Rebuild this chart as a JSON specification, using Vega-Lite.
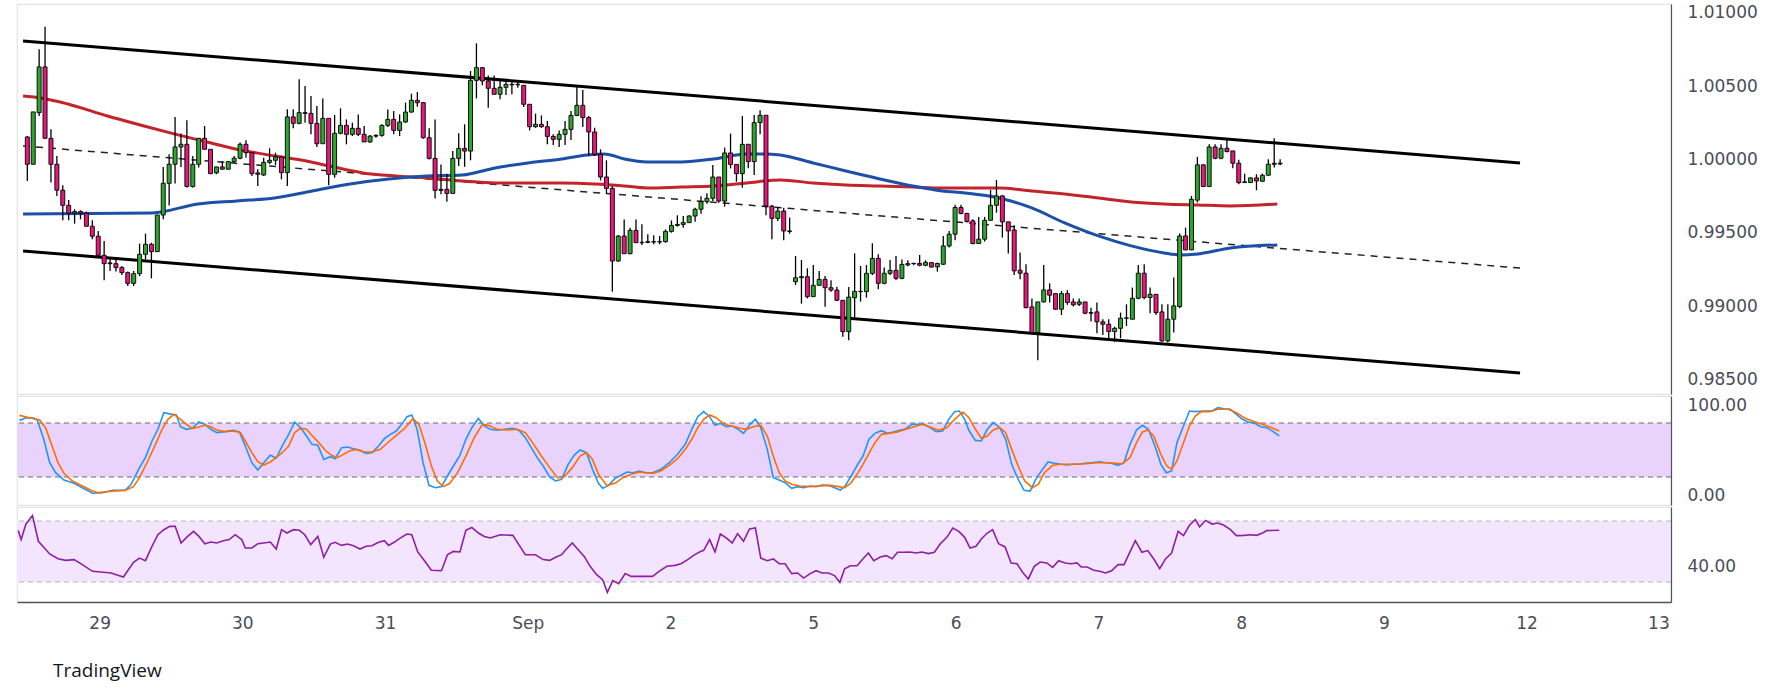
{
  "$schema": "https://vega.github.io/schema/vega-lite/v6.json",
  "background": "#ffffff",
  "padding": {"left": 14, "top": 3, "right": 5, "bottom": 5},
  "spacing": 0,
  "title": {"text": "TradingView", "orient": "bottom", "anchor": "start", "frame": "group", "offset": 30, "dx": 36, "font": "Open Sans", "fontSize": 19, "fontWeight": "normal", "color": "#131722"},
  "datasets": {
    "candles": [
      {"i":0,"o":1.00154,"h":1.00161,"l":0.99854,"c":0.99968},
      {"i":1,"o":0.99968,"h":1.00325,"l":0.99968,"c":1.00325},
      {"i":2,"o":1.0032,"h":1.00752,"l":1.00297,"c":1.00632},
      {"i":3,"o":1.00632,"h":1.00905,"l":1.00145,"c":1.00145},
      {"i":4,"o":1.00145,"h":1.00207,"l":0.99843,"c":0.99968},
      {"i":5,"o":0.99968,"h":1.00025,"l":0.99752,"c":0.99791},
      {"i":6,"o":0.99791,"h":0.99825,"l":0.99586,"c":0.99688},
      {"i":7,"o":0.99688,"h":0.99725,"l":0.99586,"c":0.99634},
      {"i":8,"o":0.99634,"h":0.99661,"l":0.99563,"c":0.99645},
      {"i":9,"o":0.99645,"h":0.99654,"l":0.99593,"c":0.99634},
      {"i":10,"o":0.99634,"h":0.99645,"l":0.99545,"c":0.99545},
      {"i":11,"o":0.99545,"h":0.99586,"l":0.99456,"c":0.99477},
      {"i":12,"o":0.99477,"h":0.99513,"l":0.99331,"c":0.99347},
      {"i":13,"o":0.99347,"h":0.99445,"l":0.99176,"c":0.9929},
      {"i":14,"o":0.99295,"h":0.99336,"l":0.9924,"c":0.9929},
      {"i":15,"o":0.9929,"h":0.9932,"l":0.99236,"c":0.99263},
      {"i":16,"o":0.99263,"h":0.99274,"l":0.99213,"c":0.99229},
      {"i":17,"o":0.99229,"h":0.99236,"l":0.99138,"c":0.99156},
      {"i":18,"o":0.99156,"h":0.9924,"l":0.99138,"c":0.99222},
      {"i":19,"o":0.99222,"h":0.99427,"l":0.99206,"c":0.99354},
      {"i":20,"o":0.99354,"h":0.99495,"l":0.9932,"c":0.99422},
      {"i":21,"o":0.99422,"h":0.99433,"l":0.9919,"c":0.99372},
      {"i":22,"o":0.99372,"h":0.99622,"l":0.99372,"c":0.99622},
      {"i":23,"o":0.99622,"h":0.9995,"l":0.99593,"c":0.99838},
      {"i":24,"o":0.99838,"h":1.00036,"l":0.99686,"c":0.99968},
      {"i":25,"o":0.99968,"h":1.00291,"l":0.99836,"c":1.00086},
      {"i":26,"o":1.00086,"h":1.00177,"l":0.9995,"c":1.00104},
      {"i":27,"o":1.00104,"h":1.00268,"l":0.99809,"c":0.99816},
      {"i":28,"o":0.99816,"h":1.00025,"l":0.99809,"c":0.99968},
      {"i":29,"o":0.99968,"h":1.00145,"l":0.99945,"c":1.00145},
      {"i":30,"o":1.00145,"h":1.00229,"l":1.0007,"c":1.0007},
      {"i":31,"o":1.0007,"h":1.0007,"l":0.999,"c":0.99904},
      {"i":32,"o":0.99909,"h":0.9995,"l":0.999,"c":0.9995},
      {"i":33,"o":0.9995,"h":0.9999,"l":0.99934,"c":0.99934},
      {"i":34,"o":0.99934,"h":0.9999,"l":0.99934,"c":0.99986},
      {"i":35,"o":0.99986,"h":1.00025,"l":0.99979,"c":1.00009},
      {"i":36,"o":1.00009,"h":1.00116,"l":1.00002,"c":1.00104},
      {"i":37,"o":1.00104,"h":1.00131,"l":1.00013,"c":1.00047},
      {"i":38,"o":1.00047,"h":1.00047,"l":0.99888,"c":0.99904},
      {"i":39,"o":0.99909,"h":0.99934,"l":0.9982,"c":0.999},
      {"i":40,"o":0.99895,"h":1.00013,"l":0.99888,"c":0.99981},
      {"i":41,"o":0.99981,"h":1.00077,"l":0.99968,"c":0.99995},
      {"i":42,"o":0.99995,"h":1.00047,"l":0.99963,"c":1.00018},
      {"i":43,"o":1.00018,"h":1.00025,"l":0.99865,"c":0.99911},
      {"i":44,"o":0.99911,"h":1.00343,"l":0.9982,"c":1.00291},
      {"i":45,"o":1.00291,"h":1.00343,"l":1.00213,"c":1.00247},
      {"i":46,"o":1.00247,"h":1.00548,"l":1.00241,"c":1.0032},
      {"i":47,"o":1.0032,"h":1.00502,"l":1.00251,"c":1.00315},
      {"i":48,"o":1.00315,"h":1.00433,"l":1.00172,"c":1.00247},
      {"i":49,"o":1.00247,"h":1.00365,"l":1.00085,"c":1.00108},
      {"i":50,"o":1.00108,"h":1.00417,"l":1.00108,"c":1.00281},
      {"i":51,"o":1.00281,"h":1.00281,"l":0.99824,"c":0.99899},
      {"i":52,"o":0.99899,"h":1.00304,"l":0.99876,"c":1.00179},
      {"i":53,"o":1.00179,"h":1.00349,"l":1.00172,"c":1.00233},
      {"i":54,"o":1.00233,"h":1.00274,"l":1.00104,"c":1.00172},
      {"i":55,"o":1.00172,"h":1.00251,"l":1.0016,"c":1.00213},
      {"i":56,"o":1.00213,"h":1.00308,"l":1.0016,"c":1.00172},
      {"i":57,"o":1.00172,"h":1.00229,"l":1.0012,"c":1.0012},
      {"i":58,"o":1.0012,"h":1.00167,"l":1.00115,"c":1.0016},
      {"i":59,"o":1.0016,"h":1.00172,"l":1.00149,"c":1.00165},
      {"i":60,"o":1.00165,"h":1.0024,"l":1.00156,"c":1.00233},
      {"i":61,"o":1.00233,"h":1.00342,"l":1.00222,"c":1.00274},
      {"i":62,"o":1.00274,"h":1.00331,"l":1.00172,"c":1.00199},
      {"i":63,"o":1.00199,"h":1.00308,"l":1.0016,"c":1.00256},
      {"i":64,"o":1.00256,"h":1.00388,"l":1.00251,"c":1.00324},
      {"i":65,"o":1.00324,"h":1.00449,"l":1.0032,"c":1.00404},
      {"i":66,"o":1.00404,"h":1.00461,"l":1.00361,"c":1.00388},
      {"i":67,"o":1.00388,"h":1.00392,"l":1.00142,"c":1.00149},
      {"i":68,"o":1.00149,"h":1.00213,"l":1.00001,"c":1.00008},
      {"i":69,"o":1.00008,"h":1.00274,"l":0.99735,"c":0.9979},
      {"i":70,"o":0.9979,"h":0.99967,"l":0.99763,"c":0.99797},
      {"i":71,"o":0.99797,"h":0.99904,"l":0.99713,"c":0.99769},
      {"i":72,"o":0.99769,"h":1.00058,"l":0.99769,"c":1.00008},
      {"i":73,"o":1.00008,"h":1.00179,"l":0.99956,"c":1.00076},
      {"i":74,"o":1.00076,"h":1.0024,"l":0.99951,"c":1.00058},
      {"i":75,"o":1.00058,"h":1.00604,"l":0.99995,"c":1.0054},
      {"i":76,"o":1.0054,"h":1.00793,"l":1.00417,"c":1.00627},
      {"i":77,"o":1.00627,"h":1.00631,"l":1.00506,"c":1.00536},
      {"i":78,"o":1.00536,"h":1.00574,"l":1.00354,"c":1.00486},
      {"i":79,"o":1.00486,"h":1.00574,"l":1.00445,"c":1.00445},
      {"i":80,"o":1.00445,"h":1.00536,"l":1.00411,"c":1.00493},
      {"i":81,"o":1.00493,"h":1.00547,"l":1.0044,"c":1.00513},
      {"i":82,"o":1.00513,"h":1.00536,"l":1.00445,"c":1.0051},
      {"i":83,"o":1.0051,"h":1.0054,"l":1.0049,"c":1.00513},
      {"i":84,"o":1.00506,"h":1.00506,"l":1.00358,"c":1.00377},
      {"i":85,"o":1.00377,"h":1.00377,"l":1.00199,"c":1.00224},
      {"i":86,"o":1.00224,"h":1.00313,"l":1.00217,"c":1.0024},
      {"i":87,"o":1.0024,"h":1.00301,"l":1.00217,"c":1.00224},
      {"i":88,"o":1.00224,"h":1.00263,"l":1.00104,"c":1.00158},
      {"i":89,"o":1.00158,"h":1.00172,"l":1.00099,"c":1.00138},
      {"i":90,"o":1.00138,"h":1.00199,"l":1.00085,"c":1.00172},
      {"i":91,"o":1.00172,"h":1.00263,"l":1.00099,"c":1.00206},
      {"i":92,"o":1.00206,"h":1.00331,"l":1.00133,"c":1.00301},
      {"i":93,"o":1.00301,"h":1.00497,"l":1.00297,"c":1.0037},
      {"i":94,"o":1.0037,"h":1.00474,"l":1.00222,"c":1.00286},
      {"i":95,"o":1.00286,"h":1.00297,"l":1.00024,"c":1.00188},
      {"i":96,"o":1.00188,"h":1.00217,"l":1.00024,"c":1.00036},
      {"i":97,"o":1.00036,"h":1.0007,"l":0.99858,"c":0.99881},
      {"i":98,"o":0.99881,"h":0.99995,"l":0.99767,"c":0.99803},
      {"i":99,"o":0.99803,"h":0.99819,"l":0.99099,"c":0.99308},
      {"i":100,"o":0.99308,"h":0.99485,"l":0.99303,"c":0.99478},
      {"i":101,"o":0.99478,"h":0.99592,"l":0.99358,"c":0.99358},
      {"i":102,"o":0.99358,"h":0.99535,"l":0.99354,"c":0.99517},
      {"i":103,"o":0.99517,"h":0.99592,"l":0.99433,"c":0.99433},
      {"i":104,"o":0.99433,"h":0.99558,"l":0.99417,"c":0.99435},
      {"i":105,"o":0.99435,"h":0.9949,"l":0.99429,"c":0.9944},
      {"i":106,"o":0.9944,"h":0.99483,"l":0.99422,"c":0.99438},
      {"i":107,"o":0.99438,"h":0.99479,"l":0.99422,"c":0.9944},
      {"i":108,"o":0.9944,"h":0.99524,"l":0.99433,"c":0.9951},
      {"i":109,"o":0.9951,"h":0.99585,"l":0.99501,"c":0.99551},
      {"i":110,"o":0.99551,"h":0.9962,"l":0.99542,"c":0.99558},
      {"i":111,"o":0.99558,"h":0.99615,"l":0.99535,"c":0.9957},
      {"i":112,"o":0.9957,"h":0.9962,"l":0.9957,"c":0.99615},
      {"i":113,"o":0.99615,"h":0.99672,"l":0.99576,"c":0.99661},
      {"i":114,"o":0.99661,"h":0.99749,"l":0.99631,"c":0.99713},
      {"i":115,"o":0.99713,"h":0.9977,"l":0.99699,"c":0.99736},
      {"i":116,"o":0.99736,"h":0.99963,"l":0.99717,"c":0.99881},
      {"i":117,"o":0.99881,"h":0.99881,"l":0.99706,"c":0.99717},
      {"i":118,"o":0.99717,"h":1.00081,"l":0.99679,"c":1.00045},
      {"i":119,"o":1.00045,"h":1.00177,"l":0.9994,"c":0.99967},
      {"i":120,"o":0.99967,"h":0.99967,"l":0.99849,"c":0.99904},
      {"i":121,"o":0.99904,"h":1.00297,"l":0.99808,"c":1.00104},
      {"i":122,"o":1.00104,"h":1.00104,"l":0.9994,"c":0.99986},
      {"i":123,"o":0.99986,"h":1.00304,"l":0.99895,"c":1.00252},
      {"i":124,"o":1.00252,"h":1.00336,"l":1.00172,"c":1.00302},
      {"i":125,"o":1.00302,"h":1.00302,"l":0.9962,"c":0.99683},
      {"i":126,"o":0.99683,"h":0.9969,"l":0.99456,"c":0.99599},
      {"i":127,"o":0.99599,"h":0.99676,"l":0.99581,"c":0.99649},
      {"i":128,"o":0.99649,"h":0.99672,"l":0.99449,"c":0.99513},
      {"i":129,"o":0.99513,"h":0.99604,"l":0.99494,"c":0.9951},
      {"i":130,"o":0.99167,"h":0.99342,"l":0.99144,"c":0.99194},
      {"i":131,"o":0.99194,"h":0.99315,"l":0.99017,"c":0.99201},
      {"i":132,"o":0.99201,"h":0.99258,"l":0.99053,"c":0.99065},
      {"i":133,"o":0.99065,"h":0.99281,"l":0.99065,"c":0.99142},
      {"i":134,"o":0.99142,"h":0.9924,"l":0.99142,"c":0.99183},
      {"i":135,"o":0.99183,"h":0.99206,"l":0.98996,"c":0.99126},
      {"i":136,"o":0.99126,"h":0.99176,"l":0.99099,"c":0.9911},
      {"i":137,"o":0.9911,"h":0.99133,"l":0.99035,"c":0.9904},
      {"i":138,"o":0.9904,"h":0.9904,"l":0.98792,"c":0.98826},
      {"i":139,"o":0.98826,"h":0.99131,"l":0.98767,"c":0.99062},
      {"i":140,"o":0.99058,"h":0.9936,"l":0.98921,"c":0.99101},
      {"i":141,"o":0.99101,"h":0.99274,"l":0.99031,"c":0.99099},
      {"i":142,"o":0.99099,"h":0.99281,"l":0.99058,"c":0.99224},
      {"i":143,"o":0.99224,"h":0.99429,"l":0.99212,"c":0.99326},
      {"i":144,"o":0.99326,"h":0.99354,"l":0.99115,"c":0.99156},
      {"i":145,"o":0.99156,"h":0.99263,"l":0.99149,"c":0.99224},
      {"i":146,"o":0.99224,"h":0.99315,"l":0.99212,"c":0.99244},
      {"i":147,"o":0.99244,"h":0.99342,"l":0.99178,"c":0.9919},
      {"i":148,"o":0.9919,"h":0.99319,"l":0.99183,"c":0.99285},
      {"i":149,"o":0.99281,"h":0.99313,"l":0.99272,"c":0.9929},
      {"i":150,"o":0.9929,"h":0.99297,"l":0.99279,"c":0.99292},
      {"i":151,"o":0.99292,"h":0.99349,"l":0.99272,"c":0.99279},
      {"i":152,"o":0.99279,"h":0.99313,"l":0.99272,"c":0.99299},
      {"i":153,"o":0.99297,"h":0.99297,"l":0.99263,"c":0.99267},
      {"i":154,"o":0.99268,"h":0.99297,"l":0.99236,"c":0.99291},
      {"i":155,"o":0.99286,"h":0.99479,"l":0.99281,"c":0.99411},
      {"i":156,"o":0.99411,"h":0.99513,"l":0.994,"c":0.99491},
      {"i":157,"o":0.99491,"h":0.99691,"l":0.9945,"c":0.99673},
      {"i":158,"o":0.99673,"h":0.99691,"l":0.99627,"c":0.99632},
      {"i":159,"o":0.99632,"h":0.99638,"l":0.9957,"c":0.99577},
      {"i":160,"o":0.99582,"h":0.99593,"l":0.99423,"c":0.99427},
      {"i":161,"o":0.99427,"h":0.99609,"l":0.99427,"c":0.99457},
      {"i":162,"o":0.99457,"h":0.99609,"l":0.99441,"c":0.99586},
      {"i":163,"o":0.99586,"h":0.99793,"l":0.99582,"c":0.99688},
      {"i":164,"o":0.99688,"h":0.99861,"l":0.99638,"c":0.99752},
      {"i":165,"o":0.99752,"h":0.99757,"l":0.99468,"c":0.99575},
      {"i":166,"o":0.99575,"h":0.99575,"l":0.99359,"c":0.99513},
      {"i":167,"o":0.9952,"h":0.99552,"l":0.99213,"c":0.99241},
      {"i":168,"o":0.99245,"h":0.99366,"l":0.99184,"c":0.99225},
      {"i":169,"o":0.99225,"h":0.99286,"l":0.98986,"c":0.9899},
      {"i":170,"o":0.98995,"h":0.99052,"l":0.98808,"c":0.9882},
      {"i":171,"o":0.9882,"h":0.99029,"l":0.98631,"c":0.99029},
      {"i":172,"o":0.99029,"h":0.99281,"l":0.99025,"c":0.99111},
      {"i":173,"o":0.99111,"h":0.99156,"l":0.99025,"c":0.99075},
      {"i":174,"o":0.99086,"h":0.99086,"l":0.98974,"c":0.98979},
      {"i":175,"o":0.98979,"h":0.99104,"l":0.9894,"c":0.99086},
      {"i":176,"o":0.99086,"h":0.99109,"l":0.99009,"c":0.99025},
      {"i":177,"o":0.99029,"h":0.99052,"l":0.98997,"c":0.99009},
      {"i":178,"o":0.99013,"h":0.99052,"l":0.99002,"c":0.99029},
      {"i":179,"o":0.99029,"h":0.99029,"l":0.98945,"c":0.98952},
      {"i":180,"o":0.98952,"h":0.9899,"l":0.98895,"c":0.98956},
      {"i":181,"o":0.98961,"h":0.99025,"l":0.98815,"c":0.98893},
      {"i":182,"o":0.98893,"h":0.98911,"l":0.98804,"c":0.98877},
      {"i":183,"o":0.98877,"h":0.98911,"l":0.98774,"c":0.98827},
      {"i":184,"o":0.98827,"h":0.98859,"l":0.98758,"c":0.98849},
      {"i":185,"o":0.98849,"h":0.98956,"l":0.98781,"c":0.98918},
      {"i":186,"o":0.98918,"h":0.99013,"l":0.98865,"c":0.9892},
      {"i":187,"o":0.98911,"h":0.99127,"l":0.98911,"c":0.99054},
      {"i":188,"o":0.99054,"h":0.99281,"l":0.99047,"c":0.99225},
      {"i":189,"o":0.99225,"h":0.99286,"l":0.99047,"c":0.99059},
      {"i":190,"o":0.99059,"h":0.99127,"l":0.98952,"c":0.99081},
      {"i":191,"o":0.99081,"h":0.99081,"l":0.9894,"c":0.98956},
      {"i":192,"o":0.98961,"h":0.99013,"l":0.98758,"c":0.98763},
      {"i":193,"o":0.98763,"h":0.99013,"l":0.98752,"c":0.98911},
      {"i":194,"o":0.98911,"h":0.99195,"l":0.9882,"c":0.99002},
      {"i":195,"o":0.98997,"h":0.99495,"l":0.98986,"c":0.99479},
      {"i":196,"o":0.99479,"h":0.99536,"l":0.99382,"c":0.99384},
      {"i":197,"o":0.99384,"h":0.99752,"l":0.99382,"c":0.99729},
      {"i":198,"o":0.99723,"h":1.00018,"l":0.99707,"c":0.99964},
      {"i":199,"o":0.99964,"h":0.99968,"l":0.99816,"c":0.99816},
      {"i":200,"o":0.99816,"h":1.00105,"l":0.99816,"c":1.00086},
      {"i":201,"o":1.00086,"h":1.00105,"l":1.00002,"c":1.00009},
      {"i":202,"o":1.00009,"h":1.00105,"l":1.00002,"c":1.00077},
      {"i":203,"o":1.00077,"h":1.00139,"l":1.00048,"c":1.00055},
      {"i":204,"o":1.00059,"h":1.00059,"l":0.99941,"c":0.99975},
      {"i":205,"o":0.99975,"h":0.99998,"l":0.99832,"c":0.99843},
      {"i":206,"o":0.99843,"h":0.99904,"l":0.99843,"c":0.99848},
      {"i":207,"o":0.99843,"h":0.99877,"l":0.99843,"c":0.99875},
      {"i":208,"o":0.99875,"h":0.999,"l":0.99791,"c":0.99854},
      {"i":209,"o":0.99852,"h":0.99904,"l":0.99848,"c":0.99893},
      {"i":210,"o":0.99893,"h":1.00002,"l":0.99893,"c":0.99968},
      {"i":211,"o":0.99968,"h":1.00145,"l":0.99945,"c":0.99975},
      {"i":212,"o":0.99975,"h":1.00002,"l":0.99961,"c":0.9997}
    ],
    "channel": [
      {"s":"upper","i":-0.72,"v":1.00809},{"s":"upper","i":252.6,"v":0.99977},
      {"s":"lower","i":-0.72,"v":0.99377},{"s":"lower","i":252.6,"v":0.98544},
      {"s":"mid","i":-0.72,"v":1.00093},{"s":"mid","i":252.6,"v":0.9926}
    ],
    "ma200": [
      {"i":-0.72,"v":1.00434},{"i":2.3,"v":1.0042},{"i":6.85,"v":1.00379},{"i":13.57,"v":1.00297},{"i":19.12,"v":1.00236},{"i":24.84,"v":1.00175},{"i":30.39,"v":1.0012},{"i":35.94,"v":1.00066},{"i":41.83,"v":1.00025},{"i":47.21,"v":0.9999},{"i":51.08,"v":0.99956},{"i":56.79,"v":0.99909},{"i":62.34,"v":0.99888},{"i":67.89,"v":0.99875},{"i":73.61,"v":0.99854},{"i":79.16,"v":0.9984},{"i":84.71,"v":0.9984},{"i":90.43,"v":0.9984},{"i":95.98,"v":0.99834},{"i":101.03,"v":0.9982},{"i":104.89,"v":0.99806},{"i":110.61,"v":0.99813},{"i":116.16,"v":0.9982},{"i":121.71,"v":0.9984},{"i":127.43,"v":0.99861},{"i":132.98,"v":0.9984},{"i":138.53,"v":0.99827},{"i":144.25,"v":0.9982},{"i":149.8,"v":0.99813},{"i":154.8,"v":0.99806},{"i":164.44,"v":0.99806},{"i":169.98,"v":0.99786},{"i":175.53,"v":0.99765},{"i":181.25,"v":0.99738},{"i":186.8,"v":0.99711},{"i":192.35,"v":0.99697},{"i":198.07,"v":0.9969},{"i":203.62,"v":0.99684},{"i":211.52,"v":0.99697}
    ],
    "ma100": [
      {"i":-0.72,"v":0.99629},{"i":21.14,"v":0.99636},{"i":28.88,"v":0.99697},{"i":35.44,"v":0.99718},{"i":41.83,"v":0.99738},{"i":48.22,"v":0.99786},{"i":54.61,"v":0.99834},{"i":61.17,"v":0.99868},{"i":67.56,"v":0.99888},{"i":73.61,"v":0.99895},{"i":79.16,"v":0.99943},{"i":84.71,"v":0.99977},{"i":90.43,"v":1.00004},{"i":94.8,"v":1.00031},{"i":97.66,"v":1.00038},{"i":101.03,"v":1.00004},{"i":104.89,"v":0.99984},{"i":110.61,"v":0.99984},{"i":116.16,"v":1.00004},{"i":121.71,"v":1.00038},{"i":124.57,"v":1.00038},{"i":127.43,"v":1.00031},{"i":132.98,"v":0.99977},{"i":138.53,"v":0.99922},{"i":144.25,"v":0.99868},{"i":149.8,"v":0.9982},{"i":154.8,"v":0.99786},{"i":158.72,"v":0.99772},{"i":164.44,"v":0.99738},{"i":169.98,"v":0.9967},{"i":175.53,"v":0.99568},{"i":181.25,"v":0.99479},{"i":186.8,"v":0.99411},{"i":192.35,"v":0.99363},{"i":195.21,"v":0.99349},{"i":198.07,"v":0.99356},{"i":203.62,"v":0.99397},{"i":211.52,"v":0.99418}
    ],
    "stochK": [
      {"i":-0.5,"v":84.1},{"i":-0.2,"v":83.3},{"i":0.5,"v":85.9},{"i":1.9,"v":85.6},{"i":2.5,"v":83.3},{"i":3.6,"v":61.9},{"i":4.6,"v":35.9},{"i":5.6,"v":24.8},{"i":7.0,"v":16.7},{"i":8.7,"v":13.0},{"i":10.4,"v":7.0},{"i":11.8,"v":1.9},{"i":13.5,"v":2.6},{"i":15.2,"v":5.2},{"i":17.3,"v":5.2},{"i":18.3,"v":11.9},{"i":19.7,"v":30.4},{"i":20.7,"v":41.5},{"i":21.8,"v":60.0},{"i":22.8,"v":73.0},{"i":23.8,"v":91.5},{"i":25.2,"v":89.6},{"i":25.9,"v":88.9},{"i":26.6,"v":75.9},{"i":27.6,"v":73.0},{"i":28.6,"v":74.1},{"i":29.7,"v":81.1},{"i":30.7,"v":78.5},{"i":31.7,"v":73.0},{"i":32.7,"v":69.3},{"i":34.1,"v":70.4},{"i":35.5,"v":71.9},{"i":36.5,"v":70.0},{"i":37.5,"v":54.4},{"i":38.6,"v":35.9},{"i":39.6,"v":27.8},{"i":40.6,"v":35.9},{"i":41.7,"v":44.1},{"i":42.7,"v":41.1},{"i":43.7,"v":54.4},{"i":44.8,"v":67.4},{"i":45.8,"v":81.1},{"i":46.8,"v":74.8},{"i":47.8,"v":65.6},{"i":48.7,"v":56.3},{"i":49.7,"v":55.2},{"i":50.7,"v":39.6},{"i":51.8,"v":42.6},{"i":52.6,"v":40.4},{"i":53.7,"v":52.6},{"i":54.7,"v":53.3},{"i":55.7,"v":51.5},{"i":56.8,"v":49.6},{"i":57.8,"v":46.3},{"i":58.8,"v":47.0},{"i":59.9,"v":54.4},{"i":60.9,"v":62.6},{"i":61.9,"v":67.4},{"i":62.9,"v":71.1},{"i":64.0,"v":80.4},{"i":64.7,"v":87.0},{"i":65.5,"v":88.9},{"i":66.4,"v":73.0},{"i":67.4,"v":35.9},{"i":68.4,"v":10.7},{"i":69.5,"v":8.1},{"i":70.5,"v":9.3},{"i":71.5,"v":21.1},{"i":72.5,"v":32.2},{"i":73.6,"v":44.1},{"i":74.6,"v":61.9},{"i":75.6,"v":74.8},{"i":76.7,"v":85.2},{"i":77.7,"v":76.7},{"i":78.7,"v":73.0},{"i":79.8,"v":71.9},{"i":81.1,"v":73.0},{"i":82.5,"v":74.1},{"i":83.5,"v":71.9},{"i":84.6,"v":63.7},{"i":85.6,"v":52.6},{"i":86.6,"v":41.5},{"i":87.6,"v":32.2},{"i":88.7,"v":20.0},{"i":89.7,"v":15.6},{"i":90.7,"v":17.4},{"i":91.8,"v":34.1},{"i":92.8,"v":44.1},{"i":93.8,"v":50.0},{"i":94.9,"v":47.0},{"i":95.9,"v":28.5},{"i":96.9,"v":13.0},{"i":97.6,"v":7.4},{"i":98.6,"v":10.7},{"i":99.7,"v":18.5},{"i":100.7,"v":21.9},{"i":101.7,"v":25.6},{"i":102.7,"v":24.8},{"i":103.8,"v":26.7},{"i":104.8,"v":24.8},
      {"i":106.0,"v":24.8},{"i":107.4,"v":28.5},{"i":108.8,"v":35.9},{"i":110.2,"v":45.2},{"i":111.5,"v":56.3},{"i":112.6,"v":73.0},{"i":113.6,"v":87.0},{"i":114.6,"v":92.6},{"i":115.6,"v":87.0},{"i":116.5,"v":77.4},{"i":117.4,"v":79.6},{"i":118.4,"v":75.9},{"i":119.4,"v":76.7},{"i":120.4,"v":73.0},{"i":121.3,"v":68.5},{"i":122.4,"v":78.5},{"i":123.3,"v":84.1},{"i":124.2,"v":74.8},{"i":125.3,"v":50.7},{"i":126.3,"v":19.3},{"i":127.3,"v":16.7},{"i":128.3,"v":13.7},{"i":129.4,"v":7.4},{"i":130.4,"v":9.3},{"i":131.4,"v":8.1},{"i":132.5,"v":10.0},{"i":133.5,"v":9.3},{"i":134.5,"v":11.1},{"i":135.6,"v":10.7},{"i":136.6,"v":8.1},{"i":137.6,"v":5.6},{"i":138.4,"v":10.0},{"i":139.5,"v":22.2},{"i":140.5,"v":34.1},{"i":141.4,"v":43.3},{"i":142.4,"v":61.9},{"i":143.4,"v":68.5},{"i":144.5,"v":71.5},{"i":145.5,"v":68.5},{"i":146.5,"v":70.0},{"i":147.6,"v":71.9},{"i":148.6,"v":73.7},{"i":149.6,"v":78.5},{"i":150.6,"v":78.5},{"i":151.7,"v":78.5},{"i":152.7,"v":74.8},{"i":153.7,"v":70.4},{"i":154.8,"v":71.1},{"i":155.8,"v":84.1},{"i":156.8,"v":92.6},{"i":157.6,"v":93.3},{"i":158.5,"v":84.1},{"i":159.2,"v":71.9},{"i":160.3,"v":60.7},{"i":161.3,"v":60.0},{"i":162.3,"v":73.0},{"i":163.3,"v":80.4},{"i":164.4,"v":74.8},{"i":165.4,"v":61.9},{"i":166.4,"v":34.1},{"i":167.5,"v":17.4},{"i":168.5,"v":5.2},{"i":169.5,"v":4.4},{"i":170.6,"v":19.3},{"i":171.6,"v":28.5},{"i":172.5,"v":36.7},{"i":173.6,"v":35.2},{"i":174.7,"v":34.1},{"i":175.7,"v":33.3},{"i":176.7,"v":34.1},{"i":177.8,"v":34.1},{"i":178.8,"v":35.2},{"i":179.8,"v":35.9},{"i":181.2,"v":37.0},{"i":182.2,"v":35.9},{"i":183.2,"v":35.2},{"i":184.3,"v":33.0},{"i":185.3,"v":35.9},{"i":186.3,"v":56.3},{"i":187.4,"v":72.2},{"i":188.4,"v":77.4},{"i":189.4,"v":73.0},{"i":190.5,"v":54.4},{"i":191.5,"v":34.1},{"i":192.4,"v":24.8},{"i":193.3,"v":26.7},{"i":194.2,"v":58.1},{"i":195.3,"v":76.7},{"i":196.3,"v":93.3},{"i":197.3,"v":92.6},{"i":198.7,"v":93.3},{"i":200.1,"v":93.3},{"i":201.1,"v":97.0},{"i":202.1,"v":95.9},{"i":203.2,"v":95.2},{"i":204.2,"v":89.6},{"i":205.2,"v":84.1},{"i":206.2,"v":81.1},{"i":207.3,"v":79.6},{"i":208.3,"v":75.9},{"i":209.3,"v":74.8},{"i":210.4,"v":70.4},{"i":211.4,"v":65.6}
    ],
    "stochD": [
      {"i":-0.5,"v":88.5},{"i":1.2,"v":85.9},{"i":2.9,"v":83.3},{"i":3.9,"v":74.8},{"i":4.9,"v":56.3},{"i":6.0,"v":35.9},{"i":7.0,"v":24.1},{"i":8.4,"v":15.6},{"i":10.1,"v":10.0},{"i":11.8,"v":4.4},{"i":12.8,"v":2.6},{"i":14.9,"v":4.1},{"i":17.3,"v":5.2},{"i":18.7,"v":9.3},{"i":19.7,"v":19.3},{"i":21.1,"v":37.8},{"i":22.4,"v":56.3},{"i":23.5,"v":73.0},{"i":24.5,"v":84.1},{"i":25.5,"v":89.6},{"i":26.6,"v":84.1},{"i":27.6,"v":78.5},{"i":28.6,"v":74.1},{"i":29.7,"v":75.6},{"i":30.7,"v":77.4},{"i":31.7,"v":75.9},{"i":32.7,"v":72.2},{"i":34.1,"v":70.4},{"i":35.5,"v":71.1},{"i":36.7,"v":69.3},{"i":37.5,"v":60.0},{"i":38.6,"v":47.0},{"i":39.6,"v":37.0},{"i":40.6,"v":33.3},{"i":41.7,"v":36.7},{"i":42.7,"v":41.5},{"i":43.7,"v":47.0},{"i":44.8,"v":54.4},{"i":45.8,"v":69.3},{"i":46.8,"v":74.1},{"i":47.8,"v":73.0},{"i":48.9,"v":64.8},{"i":49.9,"v":58.1},{"i":50.9,"v":50.0},{"i":52.0,"v":44.1},{"i":53.0,"v":41.5},{"i":54.0,"v":45.2},{"i":55.0,"v":48.9},{"i":56.1,"v":50.7},{"i":57.4,"v":48.1},{"i":58.8,"v":47.8},{"i":60.2,"v":50.7},{"i":61.6,"v":58.9},{"i":62.9,"v":66.3},{"i":64.3,"v":74.1},{"i":65.7,"v":84.8},{"i":66.7,"v":78.5},{"i":67.7,"v":58.1},{"i":68.8,"v":32.2},{"i":69.8,"v":15.6},{"i":70.8,"v":9.3},{"i":71.9,"v":13.0},{"i":73.2,"v":24.8},{"i":74.6,"v":43.3},{"i":76.0,"v":63.7},{"i":77.4,"v":78.5},{"i":78.4,"v":77.4},{"i":79.8,"v":73.0},{"i":81.5,"v":72.2},{"i":83.2,"v":73.0},{"i":84.6,"v":69.3},{"i":85.9,"v":57.4},{"i":87.3,"v":43.3},{"i":88.7,"v":30.4},{"i":90.0,"v":19.3},{"i":91.1,"v":20.0},{"i":92.5,"v":30.4},{"i":93.8,"v":43.3},{"i":94.9,"v":47.0},{"i":95.9,"v":39.6},{"i":96.9,"v":23.0},{"i":98.3,"v":10.7},{"i":99.7,"v":13.0},{"i":101.0,"v":19.3},{"i":102.4,"v":23.0},{"i":103.8,"v":25.6},
      {"i":106.0,"v":24.1},{"i":107.4,"v":26.7},{"i":108.8,"v":33.0},{"i":110.2,"v":40.4},{"i":111.5,"v":50.7},{"i":112.6,"v":61.9},{"i":113.6,"v":74.8},{"i":114.6,"v":84.1},{"i":115.6,"v":88.9},{"i":116.7,"v":85.9},{"i":117.7,"v":80.4},{"i":118.7,"v":77.4},{"i":119.8,"v":75.9},{"i":120.8,"v":74.1},{"i":121.8,"v":73.0},{"i":122.9,"v":75.9},{"i":124.2,"v":77.4},{"i":125.3,"v":65.6},{"i":126.3,"v":43.3},{"i":127.3,"v":24.8},{"i":128.3,"v":15.6},{"i":129.4,"v":11.9},{"i":130.7,"v":10.0},{"i":132.5,"v":9.3},{"i":134.2,"v":10.0},{"i":135.9,"v":10.7},{"i":137.3,"v":9.3},{"i":138.3,"v":8.1},{"i":139.3,"v":13.0},{"i":140.4,"v":23.0},{"i":141.4,"v":34.1},{"i":142.4,"v":46.3},{"i":143.4,"v":58.1},{"i":144.5,"v":67.4},{"i":145.8,"v":68.5},{"i":147.2,"v":70.0},{"i":148.6,"v":73.0},{"i":150.0,"v":75.9},{"i":151.3,"v":78.5},{"i":152.7,"v":75.6},{"i":154.1,"v":71.9},{"i":155.5,"v":74.8},{"i":156.8,"v":84.1},{"i":158.2,"v":92.2},{"i":159.2,"v":85.9},{"i":160.3,"v":73.0},{"i":161.3,"v":63.0},{"i":162.3,"v":65.6},{"i":163.3,"v":72.2},{"i":164.4,"v":74.8},{"i":165.4,"v":69.3},{"i":166.4,"v":50.7},{"i":167.5,"v":32.2},{"i":168.6,"v":15.6},{"i":169.9,"v":8.1},{"i":170.9,"v":11.9},{"i":171.9,"v":24.8},{"i":173.3,"v":33.0},{"i":174.7,"v":34.1},{"i":176.7,"v":34.1},{"i":178.8,"v":34.8},{"i":180.8,"v":35.9},{"i":182.9,"v":35.9},{"i":185.0,"v":34.8},{"i":186.3,"v":41.5},{"i":187.4,"v":58.1},{"i":188.4,"v":70.0},{"i":189.3,"v":72.2},{"i":190.3,"v":65.6},{"i":191.5,"v":45.2},{"i":192.5,"v":32.2},{"i":193.3,"v":28.5},{"i":194.2,"v":37.8},{"i":195.3,"v":58.1},{"i":196.3,"v":76.7},{"i":197.3,"v":87.8},{"i":198.3,"v":92.6},{"i":199.7,"v":92.6},{"i":201.1,"v":95.2},{"i":202.8,"v":95.2},{"i":204.2,"v":91.5},{"i":205.5,"v":85.9},{"i":206.9,"v":82.2},{"i":208.3,"v":79.3},{"i":209.7,"v":75.9},{"i":211.4,"v":71.1}
    ],
    "rsi": [
      {"i":-0.7,"v":63.7},{"i":-0.2,"v":57.8},{"i":0.6,"v":68.0},{"i":1.7,"v":73.5},{"i":2.7,"v":56.7},{"i":4.6,"v":48.4},{"i":6.0,"v":45.3},{"i":7.3,"v":44.2},{"i":8.7,"v":44.7},{"i":10.1,"v":41.4},{"i":11.8,"v":37.0},{"i":13.2,"v":36.6},{"i":14.9,"v":35.9},{"i":17.0,"v":33.3},{"i":18.7,"v":42.9},{"i":19.7,"v":45.7},{"i":20.7,"v":44.0},{"i":21.8,"v":53.4},{"i":22.8,"v":61.0},{"i":23.8,"v":64.3},{"i":24.8,"v":66.5},{"i":25.7,"v":66.5},{"i":26.7,"v":55.6},{"i":27.8,"v":59.9},{"i":28.8,"v":63.2},{"i":29.7,"v":59.9},{"i":30.7,"v":55.1},{"i":31.7,"v":56.2},{"i":32.7,"v":55.6},{"i":33.8,"v":57.1},{"i":34.8,"v":57.8},{"i":35.8,"v":61.0},{"i":36.9,"v":57.8},{"i":37.5,"v":52.3},{"i":38.6,"v":52.3},{"i":39.6,"v":55.1},{"i":40.6,"v":55.6},{"i":41.7,"v":56.2},{"i":42.7,"v":51.6},{"i":43.6,"v":64.3},{"i":44.5,"v":62.1},{"i":45.6,"v":64.3},{"i":46.6,"v":63.9},{"i":47.5,"v":61.0},{"i":48.5,"v":54.5},{"i":49.7,"v":59.9},{"i":50.7,"v":46.2},{"i":51.8,"v":54.9},{"i":52.6,"v":56.0},{"i":53.7,"v":54.0},{"i":54.7,"v":54.9},{"i":55.7,"v":53.8},{"i":56.8,"v":51.6},{"i":57.8,"v":53.4},{"i":58.8,"v":53.8},{"i":59.9,"v":56.0},{"i":60.9,"v":57.1},{"i":61.6,"v":54.0},{"i":62.6,"v":56.2},{"i":63.6,"v":58.9},{"i":64.7,"v":61.5},{"i":65.5,"v":61.0},{"i":66.5,"v":49.7},{"i":67.7,"v":43.6},{"i":68.8,"v":37.7},{"i":70.5,"v":37.4},{"i":71.5,"v":47.9},{"i":72.5,"v":50.1},{"i":73.6,"v":49.7},{"i":74.6,"v":63.9},{"i":75.6,"v":65.8},{"i":76.7,"v":62.1},{"i":77.7,"v":59.9},{"i":78.7,"v":58.9},{"i":80.4,"v":61.0},{"i":82.5,"v":60.6},{"i":83.5,"v":54.5},{"i":84.6,"v":47.9},{"i":86.3,"v":47.9},{"i":87.6,"v":44.7},{"i":88.7,"v":44.2},{"i":89.7,"v":46.2},{"i":90.7,"v":47.9},{"i":91.4,"v":51.2},{"i":92.5,"v":55.6},{"i":93.5,"v":51.2},{"i":94.5,"v":46.8},{"i":95.5,"v":40.3},{"i":96.6,"v":34.8},{"i":97.6,"v":31.5},{"i":98.4,"v":23.2},{"i":99.3,"v":30.9},{"i":100.3,"v":28.9},{"i":101.4,"v":35.5},{"i":102.4,"v":33.7},{"i":104.1,"v":33.7},
      {"i":106.0,"v":33.7},{"i":107.1,"v":37.0},{"i":108.4,"v":40.3},{"i":109.8,"v":40.9},{"i":110.8,"v":42.0},{"i":111.9,"v":44.7},{"i":112.9,"v":47.5},{"i":113.9,"v":49.7},{"i":114.6,"v":50.8},{"i":115.6,"v":57.8},{"i":116.5,"v":49.7},{"i":117.4,"v":61.5},{"i":118.4,"v":58.9},{"i":119.4,"v":55.6},{"i":120.3,"v":61.7},{"i":121.3,"v":56.7},{"i":122.3,"v":64.8},{"i":123.3,"v":65.4},{"i":124.2,"v":45.7},{"i":125.3,"v":44.0},{"i":126.3,"v":45.1},{"i":127.3,"v":42.0},{"i":128.3,"v":42.0},{"i":129.4,"v":35.5},{"i":130.4,"v":35.9},{"i":131.4,"v":32.6},{"i":132.5,"v":35.5},{"i":133.5,"v":37.4},{"i":134.5,"v":35.9},{"i":135.6,"v":35.9},{"i":136.6,"v":34.2},{"i":137.5,"v":29.8},{"i":138.3,"v":38.7},{"i":139.3,"v":40.7},{"i":140.4,"v":40.7},{"i":141.4,"v":45.3},{"i":142.3,"v":49.0},{"i":143.2,"v":44.0},{"i":144.3,"v":46.4},{"i":145.3,"v":47.3},{"i":146.3,"v":45.3},{"i":147.2,"v":49.5},{"i":148.2,"v":49.5},{"i":149.3,"v":49.7},{"i":150.3,"v":49.0},{"i":151.3,"v":49.7},{"i":152.4,"v":48.6},{"i":153.4,"v":49.5},{"i":154.4,"v":55.1},{"i":155.5,"v":59.3},{"i":156.5,"v":65.4},{"i":157.5,"v":63.2},{"i":158.5,"v":59.3},{"i":159.4,"v":52.3},{"i":160.4,"v":53.4},{"i":161.3,"v":58.2},{"i":162.3,"v":62.1},{"i":163.2,"v":64.3},{"i":164.2,"v":55.1},{"i":165.3,"v":53.0},{"i":166.3,"v":42.5},{"i":167.3,"v":42.0},{"i":168.4,"v":35.5},{"i":169.2,"v":32.0},{"i":170.2,"v":40.3},{"i":171.2,"v":43.1},{"i":172.3,"v":42.5},{"i":173.3,"v":39.6},{"i":174.3,"v":44.0},{"i":175.4,"v":42.5},{"i":176.4,"v":42.0},{"i":177.4,"v":42.5},{"i":178.1,"v":39.8},{"i":179.1,"v":39.8},{"i":180.2,"v":37.7},{"i":181.2,"v":37.0},{"i":182.2,"v":35.9},{"i":183.2,"v":37.4},{"i":184.3,"v":41.4},{"i":185.3,"v":41.4},{"i":186.3,"v":49.7},{"i":187.2,"v":57.1},{"i":188.3,"v":49.5},{"i":189.3,"v":50.6},{"i":190.3,"v":45.1},{"i":191.3,"v":38.7},{"i":192.3,"v":45.3},{"i":193.3,"v":49.0},{"i":194.4,"v":63.2},{"i":195.3,"v":60.4},{"i":196.3,"v":67.2},{"i":197.3,"v":70.9},{"i":198.0,"v":66.1},{"i":199.0,"v":70.4},{"i":200.1,"v":68.0},{"i":201.1,"v":68.7},{"i":202.1,"v":67.2},{"i":203.2,"v":64.3},{"i":204.2,"v":60.4},{"i":205.5,"v":60.6},{"i":206.6,"v":61.0},{"i":207.6,"v":60.6},{"i":208.6,"v":62.1},{"i":209.3,"v":63.7},{"i":211.4,"v":63.9}
    ]
  },
  "vconcat": [
    {
      "width": 1654,
      "height": 390,
      "layer": [
        {
          "data": {"name": "channel"},
          "transform": [{"filter": "datum.s != 'mid'"}],
          "mark": {"type": "line", "color": "#000000", "strokeWidth": 3},
          "encoding": {
            "x": {"field": "i", "type": "quantitative", "scale": {"domain": [-0.9, 277.3], "nice": false, "zero": false}, "axis": null},
            "y": {"field": "v", "type": "quantitative", "scale": {"domain": [0.98401, 1.01061], "nice": false, "zero": false}, "title": null,
                  "axis": {"orient": "right", "values": [0.985, 0.99, 0.995, 1.0, 1.005, 1.01], "format": ".5f", "labelPadding": 16, "domainColor": "#50535e", "domainWidth": 1.2, "zindex": 2}},
            "detail": {"field": "s"}
          }
        },
        {
          "data": {"name": "channel"},
          "transform": [{"filter": "datum.s == 'mid'"}],
          "mark": {"type": "line", "color": "#222222", "strokeWidth": 1.5, "strokeDash": [7, 6]},
          "encoding": {
            "x": {"field": "i", "type": "quantitative", "axis": null},
            "y": {"field": "v", "type": "quantitative", "title": null}
          }
        },
        {
          "data": {"name": "ma200"},
          "mark": {"type": "line", "color": "#c3242b", "strokeWidth": 3, "interpolate": "monotone"},
          "encoding": {
            "x": {"field": "i", "type": "quantitative", "axis": null},
            "y": {"field": "v", "type": "quantitative", "title": null}
          }
        },
        {
          "data": {"name": "ma100"},
          "mark": {"type": "line", "color": "#1c4fa8", "strokeWidth": 3, "interpolate": "monotone"},
          "encoding": {
            "x": {"field": "i", "type": "quantitative", "axis": null},
            "y": {"field": "v", "type": "quantitative", "title": null}
          }
        },
        {
          "data": {"name": "candles"},
          "mark": {"type": "rule", "color": "#000000", "strokeWidth": 1.3},
          "encoding": {
            "x": {"field": "i", "type": "quantitative", "axis": null},
            "y": {"field": "l", "type": "quantitative", "title": null},
            "y2": {"field": "h"}
          }
        },
        {
          "data": {"name": "candles"},
          "mark": {"type": "bar", "orient": "vertical", "width": 4, "stroke": "#000000", "strokeWidth": 0.9},
          "encoding": {
            "x": {"field": "i", "type": "quantitative", "axis": null},
            "y": {"field": "o", "type": "quantitative", "title": null},
            "y2": {"field": "c"},
            "fill": {"condition": {"test": "datum.c >= datum.o", "value": "#2ea52e"}, "value": "#e8177c"}
          }
        }
      ]
    },
    {
      "width": 1654,
      "height": 109,
      "layer": [
        {
          "data": {"values": [{"lo": 20, "hi": 80}]},
          "mark": {"type": "rect", "color": "#e9d2fc", "opacity": 1},
          "encoding": {
            "y": {"field": "lo", "type": "quantitative", "scale": {"domain": [-11.1, 110], "nice": false, "zero": false}, "title": null,
                  "axis": {"orient": "right", "values": [0, 100], "format": ".2f", "labelPadding": 16, "domainColor": "#50535e", "domainWidth": 1.2, "zindex": 2}},
            "y2": {"field": "hi"}
          }
        },
        {
          "data": {"values": [{"y": 20}, {"y": 80}]},
          "mark": {"type": "rule", "color": "#6a6d78", "strokeWidth": 1, "strokeDash": [5, 4]},
          "encoding": {"y": {"field": "y", "type": "quantitative", "title": null}}
        },
        {
          "data": {"name": "stochK"},
          "mark": {"type": "line", "color": "#2196f3", "strokeWidth": 1.6},
          "encoding": {
            "x": {"field": "i", "type": "quantitative", "scale": {"domain": [-0.9, 277.3], "nice": false, "zero": false}, "axis": null},
            "y": {"field": "v", "type": "quantitative", "title": null}
          }
        },
        {
          "data": {"name": "stochD"},
          "mark": {"type": "line", "color": "#ff6d00", "strokeWidth": 1.6},
          "encoding": {
            "x": {"field": "i", "type": "quantitative", "axis": null},
            "y": {"field": "v", "type": "quantitative", "title": null}
          }
        }
      ]
    },
    {
      "width": 1654,
      "height": 95,
      "layer": [
        {
          "data": {"values": [{"lo": 30, "hi": 70}]},
          "mark": {"type": "rect", "color": "#f3e5fd", "opacity": 1},
          "encoding": {
            "y": {"field": "lo", "type": "quantitative", "scale": {"domain": [16.89, 79.18], "nice": false, "zero": false}, "title": null,
                  "axis": {"orient": "right", "values": [40], "format": ".2f", "labelPadding": 16, "domainColor": "#50535e", "domainWidth": 1.2, "zindex": 2}},
            "y2": {"field": "hi"}
          }
        },
        {
          "data": {"values": [{"y": 30}, {"y": 70}]},
          "mark": {"type": "rule", "color": "#b7b3c2", "strokeWidth": 1, "strokeDash": [5, 4]},
          "encoding": {"y": {"field": "y", "type": "quantitative", "title": null}}
        },
        {
          "data": {"name": "rsi"},
          "mark": {"type": "line", "color": "#8e1fa6", "strokeWidth": 1.6},
          "encoding": {
            "x": {"field": "i", "type": "quantitative", "scale": {"domain": [-0.9, 277.3], "nice": false, "zero": false}, "title": null,
                  "axis": {"orient": "bottom", "values": [13, 37, 61, 85, 109, 133, 157, 181, 205, 229, 253, 277],
                           "labelExpr": "['29','30','31','Sep','2','5','6','7','8','9','12','13'][round((datum.value-13)/24)]",
                           "labelPadding": 13, "labelFlush": 3, "domainColor": "#50535e", "domainWidth": 1.4, "zindex": 2}},
            "y": {"field": "v", "type": "quantitative", "title": null}
          }
        }
      ]
    }
  ],
  "config": {
    "view": {"stroke": "#e0e3eb", "strokeWidth": 1.2},
    "concat": {"spacing": 0},
    "axis": {"labelFont": "DejaVu Sans", "labelFontSize": 17, "labelColor": "#4a4d57", "ticks": false, "grid": false, "labelOverlap": false}
  }
}
